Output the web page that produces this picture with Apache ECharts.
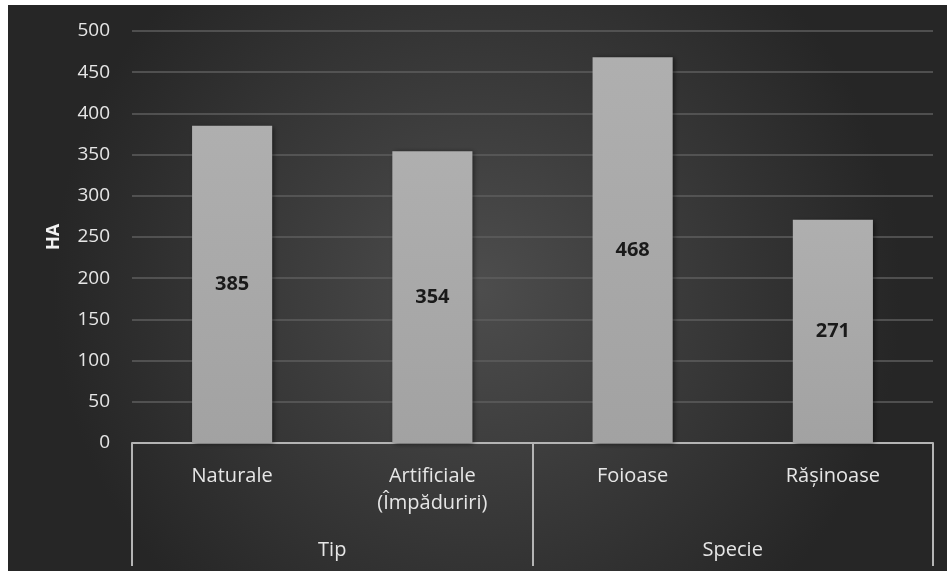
<!DOCTYPE html>
<html><head><meta charset="utf-8">
<script src="https://cdn.jsdelivr.net/npm/echarts@6/dist/echarts.min.js"></script>
<style>
html,body{margin:0;padding:0;background:#ffffff;width:947px;height:571px;overflow:hidden;}
#c{position:absolute;left:8px;top:5px;width:939px;height:566px;}
</style></head><body>
<div id="c"></div>
<script>
const categories = ['Naturale', 'Artificiale\n(Împăduriri)', 'Foioase', 'Rășinoase'];
const groups = ['Tip', 'Specie'];
const values = [385, 354, 468, 271];
const yTicks = {min: 0, max: 500, interval: 50};
const yTitle = 'HA';

const font = '"Open Sans", "DejaVu Sans", sans-serif';
const chart = echarts.init(document.getElementById('c'), null, {renderer: 'canvas'});
chart.setOption({
  animation: false,
  backgroundColor: {
    type: 'radial', x: 0.5, y: 0.5, r: 0.75,
    colorStops: [{offset: 0, color: '#4d4d4d'}, {offset: 1, color: '#262626'}]
  },
  grid: {left: 124, right: 14, top: 26, bottom: 128, containLabel: false},
  xAxis: [{
    type: 'category', data: categories, position: 'bottom',
    axisLine: {show: true, lineStyle: {color: '#b4b4b4', width: 2}},
    axisTick: {show: false},
    axisLabel: {color: '#e6e6e6', fontFamily: font, fontSize: 20, margin: 20, lineHeight: 27}
  }, {
    type: 'category', data: groups, position: 'bottom', offset: 0,
    axisLine: {show: false},
    axisTick: {show: true, length: 123, lineStyle: {color: '#b4b4b4', width: 2}},
    axisLabel: {color: '#e6e6e6', fontFamily: font, fontSize: 20, margin: 97}
  }],
  yAxis: {
    type: 'value', min: yTicks.min, max: yTicks.max, interval: yTicks.interval,
    name: yTitle, nameLocation: 'middle', nameGap: 69, nameRotate: 90,
    nameTextStyle: {color: '#f2f2f2', fontFamily: font, fontSize: 18, fontWeight: 'bold'},
    axisLine: {show: false}, axisTick: {show: false},
    axisLabel: {color: '#e6e6e6', fontFamily: font, fontSize: 19, margin: 22},
    splitLine: {lineStyle: {color: '#5e5e5e', width: 1.5}}
  },
  series: [{
    type: 'bar', data: values, xAxisIndex: 0, barWidth: '40%',
    itemStyle: {
      color: {type: 'linear', x: 0, y: 0, x2: 0, y2: 1,
        colorStops: [{offset: 0, color: '#afafaf'}, {offset: 1, color: '#a2a2a2'}]},
      shadowColor: 'rgba(0,0,0,0.55)', shadowBlur: 5, shadowOffsetX: 2, shadowOffsetY: 1
    },
    label: {show: true, position: 'inside', color: '#1a1a1a', fontFamily: font,
      fontSize: 20, fontWeight: 'bold'}
  }]
});
</script>
</body></html>
